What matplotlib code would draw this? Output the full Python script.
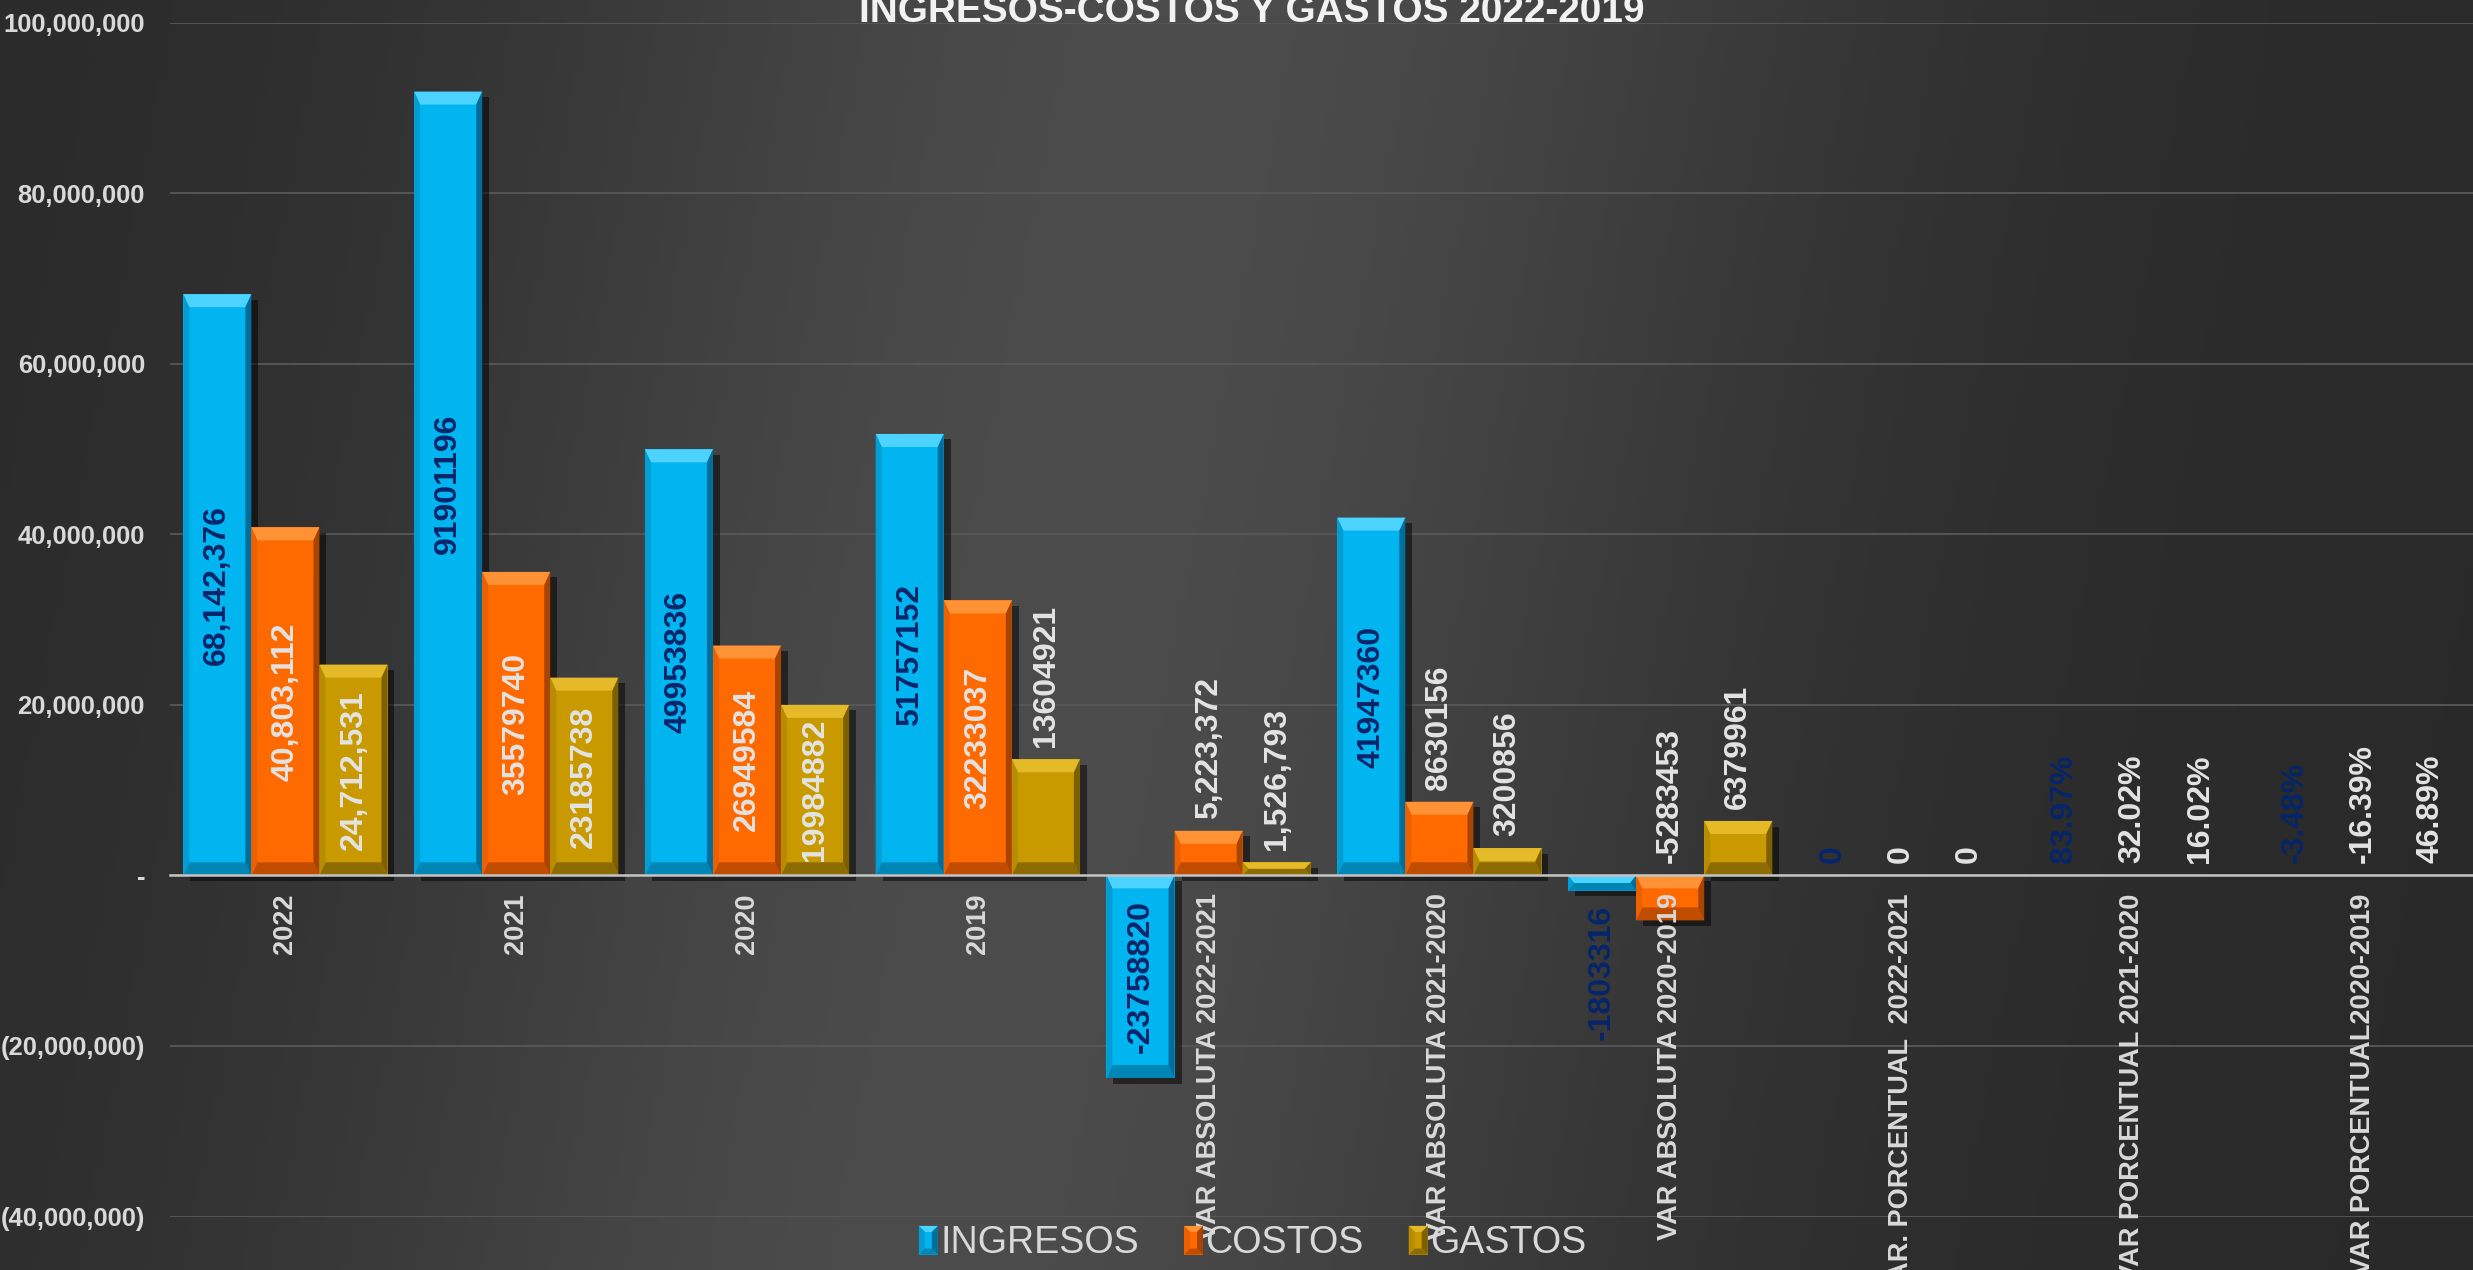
import numpy as np
import matplotlib
matplotlib.use("Agg")
import matplotlib.pyplot as plt
import matplotlib.transforms as mtransforms
from matplotlib import font_manager
from matplotlib.patches import Polygon, Rectangle
from matplotlib.legend_handler import HandlerBase
import matplotlib.patheffects as pe
from matplotlib.ticker import FuncFormatter

#############################################
# DATOS
#############################################

categories = ["2022", "2021", "2020", "2019",
              "VAR ABSOLUTA 2022-2021", "VAR ABSOLUTA 2021-2020", "VAR ABSOLUTA 2020-2019",
              "VAR. PORCENTUAL  2022-2021", "VAR PORCENTUAL 2021-2020", "VAR PORCENTUAL2020-2019"]
series_names = ["INGRESOS", "COSTOS", "GASTOS"]

ingresos = [68142376, 91901196, 49953836, 51757152, -23758820, 41947360, -1803316, 0, 0.8397, -0.0348]
costos = [40803112, 35579740, 26949584, 32233037, 5223372, 8630156, -5283453, 0, 0.3202, -0.1639]
gastos = [24712531, 23185738, 19984882, 13604921, 1526793, 3200856, 6379961, 0, 0.1602, 0.4689]

ingresos_labels = ["68,142,376", "91901196", "49953836", "51757152", "-23758820",
                   "41947360", "-1803316", "0", "83.97%", "-3.48%"]
costos_labels = ["40,803,112", "35579740", "26949584", "32233037", "5,223,372",
                 "8630156", "-5283453", "0", "32.02%", "-16.39%"]
gastos_labels = ["24,712,531", "23185738", "19984882", "13604921", "1,526,793",
                 "3200856", "6379961", "0", "16.02%", "46.89%"]

yticks = [-40000000, -20000000, 0, 20000000, 40000000, 60000000, 80000000, 100000000]
title = "INGRESOS-COSTOS Y GASTOS 2022-2019"

#############################################
# ESTILO
#############################################

# cara, bisel arriba, bisel abajo, lado izq, lado der
palettes = [
    ("#00b5f0", "#4cd3ff", "#0086b5", "#009ed4", "#006e9c"),
    ("#ff6a00", "#ff9235", "#c04c00", "#ec6000", "#a84300"),
    ("#c99a00", "#e4ba28", "#8c6b00", "#b88c00", "#7c5f00"),
]
label_colors = ["#06256a", "#e3e3e3", "#e3e3e3"]
TXT = "#d9d9d9"

names = {f.name for f in font_manager.fontManager.ttflist}
NARROW = "Liberation Sans Narrow" if "Liberation Sans Narrow" in names else "Liberation Sans"
k = 1.0 if NARROW == "Liberation Sans Narrow" else 0.82
REG = "Liberation Sans"

W, H, DPI = 2473, 1270, 100
fig = plt.figure(figsize=(W / DPI, H / DPI), dpi=DPI)

# fondo degradado
bg = fig.add_axes([0, 0, 1, 1], zorder=-10)
X, Y = np.meshgrid(np.linspace(0, 1, 500), np.linspace(0, 1, 260))
u = X + 0.1 * Y - 0.48
g = 0.163 + 0.135 * np.exp(-(u / 0.27) ** 2)
bg.imshow(np.dstack([g, g, g]), extent=[0, 1, 0, 1], aspect="auto", origin="upper")
bg.axis("off")

ax = fig.add_axes([170 / W, 1 - 1216.5 / H, (2478 - 170) / W, (1216.5 - 22.5) / H])
ax.set_facecolor("none")
ax.set_xlim(-0.5, len(categories) - 0.5)
ax.set_ylim(-40000000, 100000000)

#############################################
# BARRAS CON BISEL
#############################################

def add_bevel(rect, pal):
    x0, x1 = rect.get_x(), rect.get_x() + rect.get_width()
    y0 = min(rect.get_y(), rect.get_y() + rect.get_height())
    y1 = max(rect.get_y(), rect.get_y() + rect.get_height())
    (px0, py0), (px1, py1) = ax.transData.transform([(x0, y0), (x1, y1)])
    h = py1 - py0
    if h < 1:
        return
    bt = min(13, h / 2)
    bs = min(6, (px1 - px0) / 2)
    inv = ax.transData.inverted()
    polys = [
        ([(px0, py1), (px1, py1), (px1 - bs, py1 - bt), (px0 + bs, py1 - bt)], pal[1]),
        ([(px0, py0), (px1, py0), (px1 - bs, py0 + bt), (px0 + bs, py0 + bt)], pal[2]),
        ([(px0, py0), (px0 + bs, py0 + bt), (px0 + bs, py1 - bt), (px0, py1)], pal[3]),
        ([(px1, py0), (px1 - bs, py0 + bt), (px1 - bs, py1 - bt), (px1, py1)], pal[4]),
    ]
    for pts, c in polys:
        ax.add_patch(Polygon(inv.transform(pts), closed=True, facecolor=c,
                             edgecolor="none", zorder=2.1))


renderer = fig.canvas.get_renderer()
x = np.arange(len(categories))
bw = 0.295
all_values = [ingresos, costos, gastos]
all_labels = [ingresos_labels, costos_labels, gastos_labels]
up = mtransforms.offset_copy(ax.transData, fig=fig, y=12, units="dots")
down = mtransforms.offset_copy(ax.transData, fig=fig, y=-14, units="dots")

for i, (vals, labs) in enumerate(zip(all_values, all_labels)):
    pos = x + (i - 1) * bw
    bars = ax.bar(pos, vals, bw, color=palettes[i][0], zorder=2,
                  path_effects=[pe.SimplePatchShadow(offset=(5, -4), shadow_rgbFace="black", alpha=0.5),
                                pe.Normal()])
    for rect, v, lab, xp in zip(bars, vals, labs, pos):
        add_bevel(rect, palettes[i])
        t = ax.text(xp, v / 2, lab, rotation=90, ha="center", va="center",
                    fontsize=23, fontweight="bold", family=REG,
                    color=label_colors[i], zorder=6)
        bar_px = abs(ax.transData.transform((0, v))[1] - ax.transData.transform((0, 0))[1])
        if t.get_window_extent(renderer).height + 16 > bar_px:
            if v < 0 and i == 0 and bar_px > 3:
                t.set_position((xp, v))
                t.set_va("top")
                t.set_transform(down)
            else:
                t.set_position((xp, max(v, 0)))
                t.set_va("bottom")
                t.set_transform(up)

#############################################
# EJES
#############################################

for s in ["left", "right", "top"]:
    ax.spines[s].set_visible(False)
ax.spines["bottom"].set_position(("data", 0))
ax.spines["bottom"].set_color("#c4c4c4")
ax.spines["bottom"].set_linewidth(1.8)
ax.spines["bottom"].set_zorder(5)

ax.set_yticks(yticks)
ax.yaxis.set_major_formatter(FuncFormatter(
    lambda v, p: "-" if v == 0 else (f"{v:,.0f}" if v > 0 else f"({-v:,.0f})")))
ax.yaxis.grid(True, color="#585858", linewidth=1.3)
ax.set_axisbelow(True)
ax.tick_params(axis="y", length=0, pad=18, labelcolor=TXT, labelsize=22.5 * k)
for tl in ax.get_yticklabels():
    tl.set_family(NARROW)
    tl.set_fontweight("bold")

ax.set_xticks(x)
ax.set_xticklabels(categories, rotation=90, fontsize=19.5, fontweight="bold",
                   family=REG, color=TXT)
ax.tick_params(axis="x", length=0, pad=13)
ax.xaxis.set_zorder(5)

fig.text(0.506, 1 - 22 / H, title, ha="center", va="baseline", fontsize=34 * k,
         fontweight="bold", family=NARROW, color="#f2f2f2")

#############################################
# LEYENDA
#############################################

class BevelHandler(HandlerBase):
    def __init__(self, pal):
        super().__init__()
        self.pal = pal

    def create_artists(self, legend, orig_handle, xdescent, ydescent, width, height, fontsize, trans):
        x0, y0 = -xdescent, -ydescent
        x1, y1 = x0 + width, y0 + height
        b = 0.32 * width
        p = self.pal
        shapes = [
            ([(x0, y0), (x1, y0), (x1, y1), (x0, y1)], p[0]),
            ([(x0, y1), (x1, y1), (x1 - b, y1 - b), (x0 + b, y1 - b)], p[1]),
            ([(x0, y0), (x1, y0), (x1 - b, y0 + b), (x0 + b, y0 + b)], p[2]),
            ([(x0, y0), (x0 + b, y0 + b), (x0 + b, y1 - b), (x0, y1)], p[3]),
            ([(x1, y0), (x1 - b, y0 + b), (x1 - b, y1 - b), (x1, y1)], p[4]),
        ]
        return [Polygon(pts, closed=True, facecolor=c, edgecolor="none", transform=trans)
                for pts, c in shapes]


handles = [Rectangle((0, 0), 1, 1, facecolor=p[0]) for p in palettes]
leg_fs = 33 * k
leg_px = leg_fs * DPI / 72
leg = fig.legend(handles, series_names, loc="center", bbox_to_anchor=(0.5065, 0.021),
                 ncol=3, frameon=False,
                 prop={"family": NARROW, "size": leg_fs},
                 handlelength=19 / leg_px, handleheight=30 / leg_px,
                 handletextpad=0.06, columnspacing=1.2, borderpad=0,
                 handler_map={h: BevelHandler(p) for h, p in zip(handles, palettes)})
for t in leg.get_texts():
    t.set_color(TXT)

fig.savefig("out.png", dpi=DPI)
